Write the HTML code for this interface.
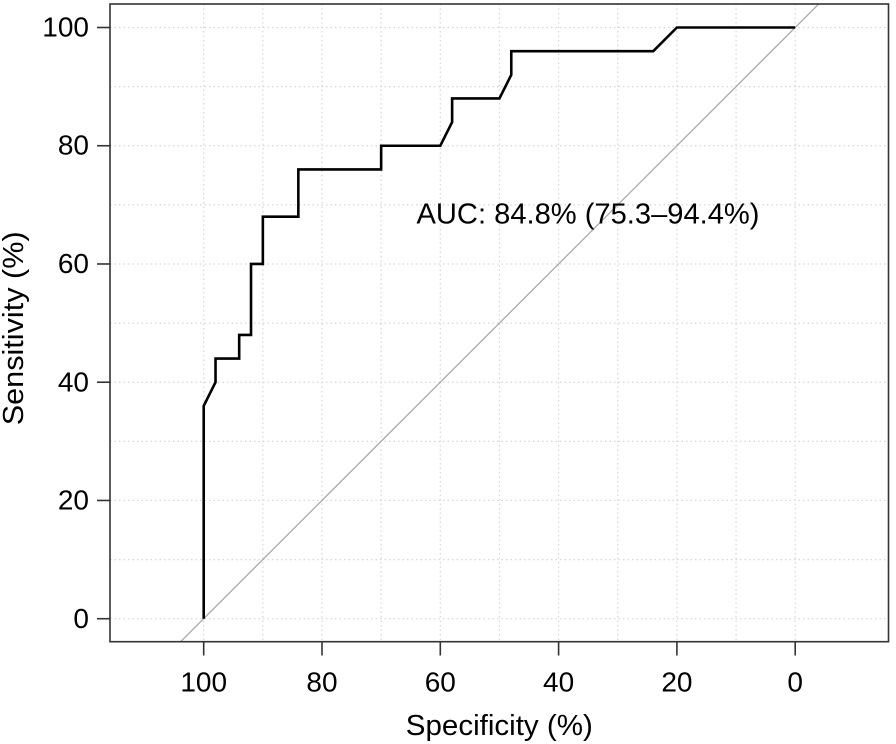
<!DOCTYPE html>
<html>
<head>
<meta charset="utf-8">
<style>
html,body{margin:0;padding:0;background:#fff;}
svg{display:block;}
text{font-family:"Liberation Sans",Arial,sans-serif;fill:#000;}
</style>
</head>
<body>
<svg width="896" height="744" viewBox="0 0 896 744" xmlns="http://www.w3.org/2000/svg">
<defs>
<clipPath id="pc"><rect x="110" y="4" width="778.5" height="637.7"/></clipPath>
</defs>
<rect width="896" height="744" fill="#fff"/>
<!-- grid -->
<g stroke="#d6d6d6" stroke-width="1.2" stroke-dasharray="1.5,3" fill="none">
<line x1="203.7" y1="4" x2="203.7" y2="641.7"/>
<line x1="262.85" y1="4" x2="262.85" y2="641.7"/>
<line x1="322.0" y1="4" x2="322.0" y2="641.7"/>
<line x1="381.15" y1="4" x2="381.15" y2="641.7"/>
<line x1="440.3" y1="4" x2="440.3" y2="641.7"/>
<line x1="499.45" y1="4" x2="499.45" y2="641.7"/>
<line x1="558.6" y1="4" x2="558.6" y2="641.7"/>
<line x1="617.75" y1="4" x2="617.75" y2="641.7"/>
<line x1="676.9" y1="4" x2="676.9" y2="641.7"/>
<line x1="736.05" y1="4" x2="736.05" y2="641.7"/>
<line x1="795.2" y1="4" x2="795.2" y2="641.7"/>
<line x1="110" y1="27.5" x2="888.5" y2="27.5"/>
<line x1="110" y1="86.6" x2="888.5" y2="86.6"/>
<line x1="110" y1="145.74" x2="888.5" y2="145.74"/>
<line x1="110" y1="204.86" x2="888.5" y2="204.86"/>
<line x1="110" y1="263.98" x2="888.5" y2="263.98"/>
<line x1="110" y1="323.1" x2="888.5" y2="323.1"/>
<line x1="110" y1="382.22" x2="888.5" y2="382.22"/>
<line x1="110" y1="441.34" x2="888.5" y2="441.34"/>
<line x1="110" y1="500.46" x2="888.5" y2="500.46"/>
<line x1="110" y1="559.6" x2="888.5" y2="559.6"/>
<line x1="110" y1="618.7" x2="888.5" y2="618.7"/>
</g>
<!-- diagonal -->
<g clip-path="url(#pc)">
<line x1="180.0" y1="642.3" x2="818.9" y2="3.85" stroke="#aaaaaa" stroke-width="1.3"/>
</g>
<!-- ROC curve -->
<polyline fill="none" stroke="#000" stroke-width="2.6" stroke-linejoin="miter"
points="203.7,618.7 203.7,405.9 215.53,382.22 215.53,358.57 239.19,358.57 239.19,334.9 251.02,334.9 251.02,263.98 262.85,263.98 262.85,216.7 298.34,216.7 298.34,169.4 381.15,169.4 381.15,145.74 440.3,145.74 452.13,122.1 452.13,98.4 499.45,98.4 511.28,74.8 511.28,51.15 653.24,51.15 676.9,27.5 795.2,27.5"/>
<!-- box -->
<rect x="110" y="4" width="778.5" height="637.7" fill="none" stroke="#333" stroke-width="1.6"/>
<!-- ticks -->
<g stroke="#333" stroke-width="1.6">
<line x1="97" y1="27.5" x2="110" y2="27.5"/>
<line x1="97" y1="145.74" x2="110" y2="145.74"/>
<line x1="97" y1="263.98" x2="110" y2="263.98"/>
<line x1="97" y1="382.22" x2="110" y2="382.22"/>
<line x1="97" y1="500.46" x2="110" y2="500.46"/>
<line x1="97" y1="618.7" x2="110" y2="618.7"/>
<line x1="203.7" y1="641.7" x2="203.7" y2="655.5"/>
<line x1="322.0" y1="641.7" x2="322.0" y2="655.5"/>
<line x1="440.3" y1="641.7" x2="440.3" y2="655.5"/>
<line x1="558.6" y1="641.7" x2="558.6" y2="655.5"/>
<line x1="676.9" y1="641.7" x2="676.9" y2="655.5"/>
<line x1="795.2" y1="641.7" x2="795.2" y2="655.5"/>
</g>
<!-- y tick labels -->
<g font-size="28" text-anchor="end">
<text x="89" y="36.5">100</text>
<text x="89" y="154.7">80</text>
<text x="89" y="273">60</text>
<text x="89" y="391.5">40</text>
<text x="89" y="509.5">20</text>
<text x="89" y="628">0</text>
</g>
<!-- x tick labels -->
<g font-size="28" text-anchor="middle">
<text x="203.7" y="691.7">100</text>
<text x="322.0" y="691.7">80</text>
<text x="440.3" y="691.7">60</text>
<text x="558.6" y="691.7">40</text>
<text x="676.9" y="691.7">20</text>
<text x="795.2" y="691.7">0</text>
</g>
<!-- axis labels -->
<text x="499.3" y="735" font-size="28.5" text-anchor="middle" textLength="187" lengthAdjust="spacingAndGlyphs">Specificity (%)</text>
<text transform="translate(23,328.3) rotate(-90)" x="0" y="0" font-size="28.5" text-anchor="middle" textLength="194" lengthAdjust="spacingAndGlyphs">Sensitivity (%)</text>
<!-- AUC -->
<text x="416.5" y="223.3" font-size="28.5" textLength="343" lengthAdjust="spacingAndGlyphs">AUC: 84.8% (75.3–94.4%)</text>
</svg>
</body>
</html>
